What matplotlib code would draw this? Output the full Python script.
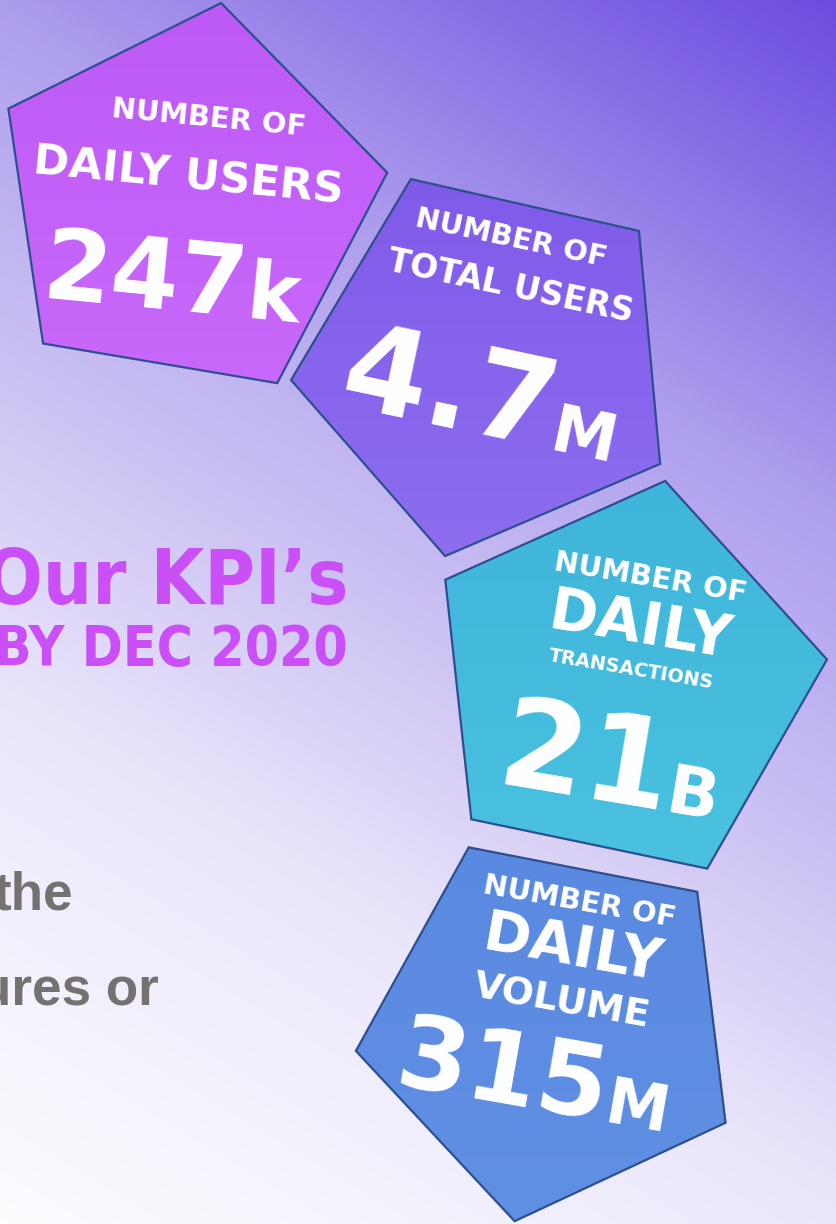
import numpy as np
import matplotlib
matplotlib.use("Agg")
import matplotlib.pyplot as plt
from matplotlib import font_manager
from matplotlib.font_manager import FontProperties
from matplotlib.patches import Polygon
from matplotlib.colors import LinearSegmentedColormap, to_rgb

# ---------------- data ----------------
kpi_top = ["NUMBER OF", "NUMBER OF", "NUMBER OF", "NUMBER OF"]
kpi_main = ["DAILY USERS", "TOTAL USERS", "DAILY", "DAILY"]
kpi_sub = ["", "", "TRANSACTIONS", "VOLUME"]
kpi_values = [247, 4.7, 21, 315]
kpi_units = ["k", "M", "B", "M"]
title_main = "Our KPI\u2019s"
title_sub = "BY DEC 2020"
body_lines = ["the", "ures or"]

# ---------------- style / layout ----------------
W, H = 836, 1224
fill_top = ["#BD59F5", "#805AEA", "#3FB5DB", "#5A89E1"]
fill_bot = ["#C96AFB", "#8C6EEE", "#4AC2DF", "#6090E3"]
edge_col = "#2D4F8E"
title_col = "#CB4FF6"
body_col = "#757171"

# pentagon geometry: centre, radius, angle of first vertex (deg, image coords)
pent = [((187.4, 202.2), 202, -80.4),
        ((489.2, 362.0), 199, -113.2),
        ((623.2, 681.6), 205, -78.2),
        ((552.4, 1026.8), 198, -115.0)]

# text layout per pentagon
rot = [5.5, 12.0, 9.5, 10.0]
top_anchor = [(208, 126), (509, 246), (649, 586), (578, 910)]
top_size = [29, 29, 29, 29]
main_anchor = [(187, 188), (508, 296), (638, 643), (570, 966)]
main_size = [43, 33, 58, 57]
sub_anchor = [None, None, (630, 675), (560, 1012)]
sub_size = [None, None, 19, 38]
num_anchor = [(244, 318), (548, 450), (664, 812), (602, 1122)]
num_size = [98, 122, 124, 102]
unit_size = [80, 66, 68, 64]

# ---------------- fonts ----------------
cond_path = None
for f in font_manager.fontManager.ttflist:
    if "DejaVuSansCondensed-Bold.ttf" in f.fname:
        cond_path = f.fname
        break
narrow_ok = any(f.name == "Liberation Sans Narrow" for f in font_manager.fontManager.ttflist)

PX = 72.0 / 100.0  # points per pixel at dpi 100
BOLD = FontProperties(family="DejaVu Sans", weight="bold")


def cond():
    if cond_path:
        return FontProperties(fname=cond_path)
    return BOLD


def cond_pt(em_px):
    return em_px * PX * (1.0 if cond_path else 0.9)


fig = plt.figure(figsize=(W / 100, H / 100), dpi=100)
ax = fig.add_axes([0, 0, 1, 1])
ax.set_xlim(0, W)
ax.set_ylim(H, 0)
ax.axis("off")

# ---------------- background gradient ----------------
yy, xx = np.mgrid[0:H, 0:W].astype(float)
t = 0.6 * xx + (H - yy)
t = t / t.max()
bg_cmap = LinearSegmentedColormap.from_list(
    "bg",
    [(0.0, "#FDFCFF"), (0.3, "#EBE7FB"), (0.48, "#CFC5F4"),
     (0.7, "#AF9FEE"), (1.0, "#6C4CE0")])
ax.imshow(bg_cmap(t), extent=[0, W, H, 0], origin="upper", zorder=0,
          interpolation="bilinear")

# ---------------- pentagons ----------------
for i, ((cx, cy), r, a0) in enumerate(pent):
    ang = np.deg2rad(a0 + 72 * np.arange(5))
    verts = np.column_stack([cx + r * np.cos(ang), cy + r * np.sin(ang)])
    c1 = np.array(to_rgb(fill_top[i]))
    c2 = np.array(to_rgb(fill_bot[i]))
    gy = np.linspace(0, 1, 64)[:, None, None]
    grad = np.repeat(c1 * (1 - gy) + c2 * gy, 4, axis=1)
    im = ax.imshow(grad, extent=[cx - r, cx + r, cy + r, cy - r],
                   origin="upper", zorder=2, interpolation="bilinear")
    im.set_clip_path(Polygon(verts, closed=True, transform=ax.transData))
    ax.add_patch(Polygon(verts, closed=True, facecolor="none",
                         edgecolor=edge_col, linewidth=1.6, zorder=3))

    R = -rot[i]
    kw = dict(color="white", rotation=R, rotation_mode="anchor",
              va="baseline", zorder=5)
    ax.text(*top_anchor[i], kpi_top[i], fontproperties=BOLD,
            fontsize=top_size[i] * PX, ha="center", **kw)
    ax.text(*main_anchor[i], kpi_main[i], fontproperties=BOLD,
            fontsize=main_size[i] * PX, ha="center", **kw)
    if kpi_sub[i]:
        ax.text(*sub_anchor[i], kpi_sub[i], fontproperties=BOLD,
                fontsize=sub_size[i] * PX, ha="center", **kw)
    ax.text(*num_anchor[i], "{:g}".format(kpi_values[i]), fontproperties=BOLD,
            fontsize=num_size[i] * PX, ha="right", **kw)
    ax.text(*num_anchor[i], kpi_units[i], fontproperties=BOLD,
            fontsize=unit_size[i] * PX, ha="left", **kw)

# ---------------- title ----------------
ax.text(348, 604, title_main, color=title_col, fontproperties=cond(),
        fontsize=cond_pt(77), ha="right", va="baseline", zorder=5)
ax.text(348, 665, title_sub, color=title_col, fontproperties=cond(),
        fontsize=cond_pt(55), ha="right", va="baseline", zorder=5)

# ---------------- body text (cut at left edge) ----------------
if narrow_ok:
    body_font = dict(family="Liberation Sans Narrow", weight="bold", fontsize=64 * PX)
else:
    body_font = dict(family="Liberation Sans", weight="bold", fontsize=53 * PX)
ax.text(73, 909, body_lines[0], color=body_col, ha="right", va="baseline",
        zorder=5, **body_font)
ax.text(159, 1005, body_lines[1], color=body_col, ha="right", va="baseline",
        zorder=5, **body_font)

fig.savefig("out.png", dpi=100)
